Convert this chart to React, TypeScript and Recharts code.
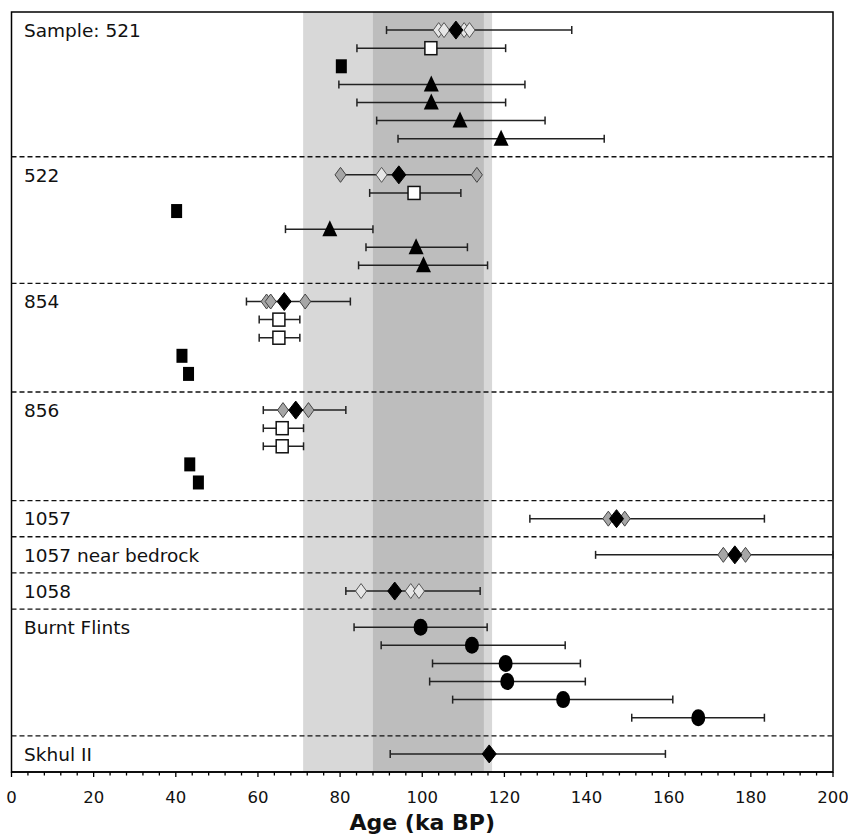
import { ScatterChart, Scatter, XAxis, YAxis, ErrorBar, ReferenceArea, ReferenceLine } from 'recharts';

// sample groups, one label per group, each row is one dated item
const groupLabels = ['Sample: 521', '522', '854', '856', '1057', '1057 near bedrock', '1058', 'Burnt Flints', 'Skhul II'];
const groupLabelRows = [1, 9, 16, 22, 28, 30, 32, 34, 41];
const separatorRows = [8, 15, 21, 27, 29, 31, 33, 40];
const rowCount = 41;

// weighted mean ages (black diamonds) with ranges
const meanRows = [1, 9, 16, 22, 28, 30, 32, 41];
const meanAges = [108.2, 94.3, 66.4, 69.2, 147.3, 176.1, 93.3, 116.3];
const meanLow = [91.3, 80.1, 57.2, 61.3, 126.2, 142.2, 81.4, 92.2];
const meanHigh = [136.4, 113.3, 82.5, 81.4, 183.3, 200.0, 114.1, 159.2];

// single model ages (grey and pale diamonds)
const greyDiamondRows = [9, 9, 16, 16, 16, 22, 22, 28, 28, 30, 30];
const greyDiamondAges = [80.1, 113.3, 62.1, 63.1, 71.5, 66.1, 72.3, 145.3, 149.3, 173.3, 178.7];
const paleDiamondRows = [1, 1, 1, 1, 9, 32, 32, 32];
const paleDiamondAges = [104.0, 105.3, 110.2, 111.5, 90.1, 85.1, 97.2, 99.2];

const openSquareRows = [2, 10, 17, 18, 23, 24];
const openSquareAges = [102.1, 98.0, 65.1, 65.1, 65.9, 65.9];
const openSquareLow = [84.1, 87.2, 60.3, 60.3, 61.3, 61.3];
const openSquareHigh = [120.3, 109.4, 70.2, 70.2, 71.1, 71.1];

const blackSquareRows = [3, 11, 19, 20, 25, 26];
const blackSquareAges = [80.3, 40.2, 41.5, 43.1, 43.4, 45.5];

const triangleRows = [4, 5, 6, 7, 12, 13, 14];
const triangleAges = [102.2, 102.2, 109.2, 119.2, 77.5, 98.5, 100.3];
const triangleLow = [79.7, 84.1, 88.9, 94.1, 66.7, 86.3, 84.5];
const triangleHigh = [125.0, 120.3, 129.9, 144.3, 88.0, 111.0, 115.9];

const flintRows = [34, 35, 36, 37, 38, 39];
const flintAges = [99.6, 112.1, 120.3, 120.7, 134.3, 167.2];
const flintLow = [83.4, 90.0, 102.5, 101.8, 107.4, 151.0];
const flintHigh = [115.8, 134.8, 138.5, 139.7, 161.0, 183.3];

const lightBand = [71, 117];
const darkBand = [88, 115];
const majorTicks = [0, 20, 40, 60, 80, 100, 120, 140, 160, 180, 200];
const minorStep = 4;

const FONT = '"DejaVu Sans", "Liberation Sans", Arial, sans-serif';

type Pt = { row: number; age: number; err?: number[]; name?: string };

const toPoints = (rows: number[], ages: number[], low?: number[], high?: number[]): Pt[] =>
    rows.map((row, i) => ({
        row,
        age: ages[i],
        err: low && high ? [ages[i] - low[i], high[i] - ages[i]] : undefined,
    }));

const means = toPoints(meanRows, meanAges, meanLow, meanHigh);
const greyDiamonds = toPoints(greyDiamondRows, greyDiamondAges);
const paleDiamonds = toPoints(paleDiamondRows, paleDiamondAges);
const openSquares = toPoints(openSquareRows, openSquareAges, openSquareLow, openSquareHigh);
const blackSquares = toPoints(blackSquareRows, blackSquareAges);
const triangles = toPoints(triangleRows, triangleAges, triangleLow, triangleHigh);
const flints = toPoints(flintRows, flintAges, flintLow, flintHigh);
const withRanges = [...means, ...openSquares, ...triangles, ...flints];
// group names sit at the left edge (age 0) of their first row
const groupNames: Pt[] = groupLabelRows.map((row, i) => ({ row, age: 0, name: groupLabels[i] }));

const minorTicks: number[] = [];
for (let v = 0; v <= 200; v += minorStep) minorTicks.push(v);

const noShape = () => <g />;

const diamond = (w: number, h: number, fill: string, stroke: string) => (p: any) => (
    <polygon
        points={`${p.cx},${p.cy - h} ${p.cx + w},${p.cy} ${p.cx},${p.cy + h} ${p.cx - w},${p.cy}`}
        fill={fill}
        stroke={stroke}
        strokeWidth={1}
    />
);

const openSquare = (p: any) => (
    <rect x={p.cx - 6} y={p.cy - 6.5} width={12} height={13} fill="#fff" stroke="#111" strokeWidth={1.5} />
);

const blackSquare = (p: any) => <rect x={p.cx - 5.5} y={p.cy - 7} width={11} height={14} fill="#000" />;

const triangle = (p: any) => (
    <polygon points={`${p.cx},${p.cy - 9} ${p.cx + 7.5},${p.cy + 7} ${p.cx - 7.5},${p.cy + 7}`} fill="#000" />
);

const dot = (p: any) => <ellipse cx={p.cx} cy={p.cy} rx={7} ry={8.5} fill="#000" />;

const groupText = (p: any) => (
    <text x={p.cx + 12.5} y={p.cy} dy="0.36em" textAnchor="start" fontSize={18.5} fontFamily={FONT} fill="#111">
        {p.payload?.name ?? p.name}
    </text>
);

function AgeTick({ x, y, payload }: any) {
    const v = payload.value;
    const major = majorTicks.includes(v);
    return (
        <g>
            <line x1={x} x2={x} y1={y} y2={y + (major ? 5 : 3.5)} stroke="#000" strokeWidth={1.3} />
            {major && (
                <text x={x} y={y + 31} textAnchor="middle" fontSize={16.5} fontFamily={FONT} fill="#111">
                    {v}
                </text>
            )}
        </g>
    );
}

export default function App() {
    return (
        <div style={{ position: 'absolute', left: 0, top: 0, width: 848, height: 836, background: '#fff', fontFamily: FONT }}>
            <ScatterChart width={848} height={836} margin={{ top: 12, right: 15, left: 11.5, bottom: 0 }}>
                <XAxis
                    type="number"
                    dataKey="age"
                    domain={[0, 200]}
                    allowDataOverflow
                    ticks={minorTicks}
                    interval={0}
                    tickSize={0}
                    tickMargin={0}
                    tickLine={false}
                    tick={<AgeTick />}
                    axisLine={{ stroke: '#000', strokeWidth: 1.5 }}
                    height={64}
                    label={{
                        value: 'Age (ka BP)',
                        position: 'insideBottom',
                        offset: 6,
                        style: { fontSize: 22, fontWeight: 700, fontFamily: FONT, fill: '#111' },
                    }}
                />
                <YAxis type="number" dataKey="row" domain={[0, rowCount + 1]} reversed hide />
                <ReferenceArea x1={lightBand[0]} x2={lightBand[1]} y1={0} y2={rowCount + 1} fill="#d8d8d8" fillOpacity={1} stroke="none" />
                <ReferenceArea x1={darkBand[0]} x2={darkBand[1]} y1={0} y2={rowCount + 1} fill="#bdbdbd" fillOpacity={1} stroke="none" />
                {separatorRows.map((r) => (
                    <ReferenceLine key={r} y={r} stroke="#111" strokeWidth={1.3} strokeDasharray="5 3" />
                ))}
                <ReferenceArea x1={0} x2={200} y1={0} y2={rowCount + 1} fill="none" stroke="#000" strokeWidth={1.5} />

                <Scatter data={groupNames} shape={groupText} isAnimationActive={false} />
                <Scatter data={withRanges} shape={noShape} isAnimationActive={false}>
                    <ErrorBar dataKey="err" direction="x" width={4} stroke="#222" strokeWidth={1.5} isAnimationActive={false} />
                </Scatter>
                <Scatter data={greyDiamonds} shape={diamond(5.5, 7.5, '#a6a6a6', '#444')} isAnimationActive={false} />
                <Scatter data={paleDiamonds} shape={diamond(5.5, 7.5, '#e6e6e6', '#555')} isAnimationActive={false} />
                <Scatter data={means} shape={diamond(7, 9, '#000', '#000')} isAnimationActive={false} />
                <Scatter data={openSquares} shape={openSquare} isAnimationActive={false} />
                <Scatter data={blackSquares} shape={blackSquare} isAnimationActive={false} />
                <Scatter data={triangles} shape={triangle} isAnimationActive={false} />
                <Scatter data={flints} shape={dot} isAnimationActive={false} />
            </ScatterChart>
        </div>
    );
}
